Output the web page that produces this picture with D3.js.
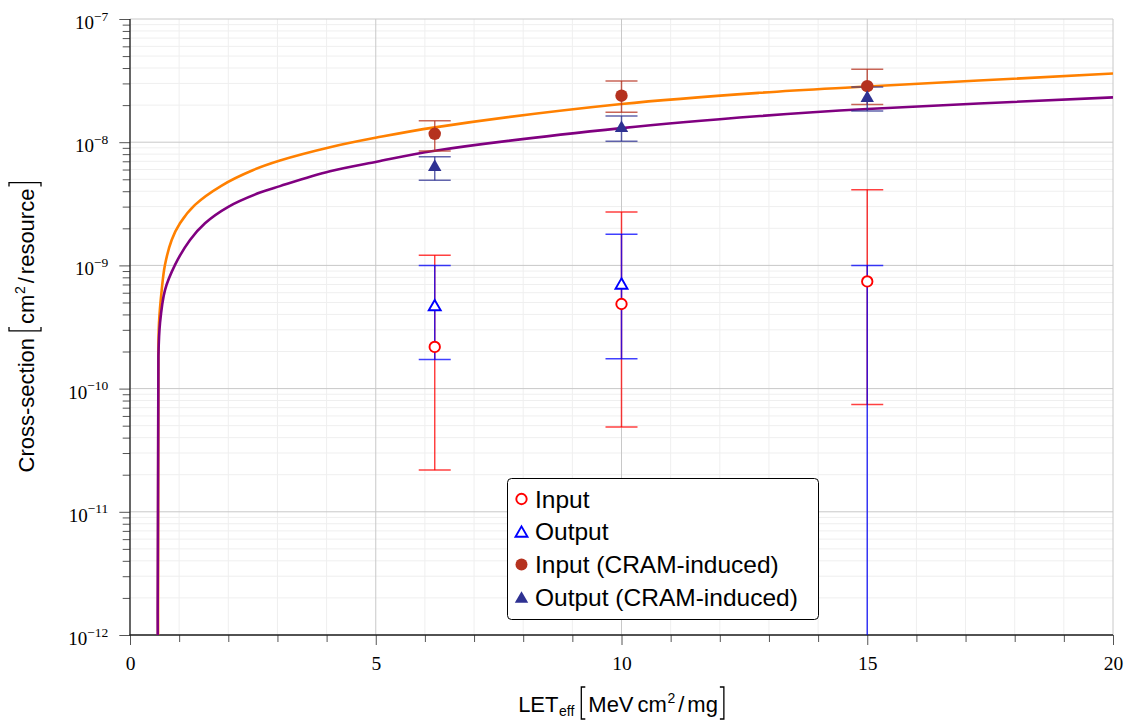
<!DOCTYPE html>
<html>
<head>
<meta charset="utf-8">
<script src="https://cdn.jsdelivr.net/npm/d3@7"></script>
<style>
  body { margin: 0; background: #fff; }
  svg { display: block; }
</style>
</head>
<body>
<svg id="chart" width="1128" height="720"></svg>
<script>
// ---- measured cross-sections (cm^2 per resource) vs effective LET ----
const letValues = [6.2, 10, 15];

const inputSigma = [2.18e-10, 4.86e-10, 7.41e-10];
const inputLow   = [2.18e-11, 4.88e-11, 7.43e-11];
const inputHigh  = [1.21e-9, 2.71e-9, 4.12e-9];

const outputSigma = [4.61e-10, 6.90e-10, null];   // no event rate at the highest LET
const outputLow   = [1.72e-10, 1.75e-10, 0];
const outputHigh  = [1.0e-9, 1.79e-9, 1.0e-9];

const cramInputSigma = [1.17e-8, 2.385e-8, 2.85e-8];
const cramInputLow   = [8.5e-9, 1.75e-8, 2.02e-8];
const cramInputHigh  = [1.49e-8, 3.14e-8, 3.91e-8];

const cramOutputSigma = [6.28e-9, 1.30e-8, 2.28e-8];
const cramOutputLow   = [4.91e-9, 1.02e-8, 1.79e-8];
const cramOutputHigh  = [7.62e-9, 1.63e-8, 2.81e-8];

// ---- fitted response curves (threshold near 0.575 MeV cm^2/mg) ----
const fitInputLET   = [0.575, 0.577, 0.59, 0.645, 0.712, 0.848, 1.017, 1.322, 1.866, 2.509, 3.052, 4.069, 5.019, 6.205, 10, 12.82, 15, 20];
const fitInputSigma = [0, 1.85e-10, 3.39e-10, 6.31e-10, 1.01e-9, 1.61e-9, 2.20e-9, 3.1e-9, 4.45e-9, 5.95e-9, 7.1e-9, 9.10e-9, 1.09e-8, 1.32e-8, 2.04e-8, 2.52e-8, 2.83e-8, 3.61e-8];

const fitOutputLET   = [0.575, 0.578, 0.61, 0.712, 0.916, 1.221, 1.526, 2.0, 2.645, 3.052, 4.069, 5.019, 6.205, 10, 12.82, 15, 20];
const fitOutputSigma = [0, 1.82e-10, 3.39e-10, 6.31e-10, 1.01e-9, 1.61e-9, 2.20e-9, 2.99e-9, 3.9e-9, 4.4e-9, 5.8e-9, 6.95e-9, 8.53e-9, 1.30e-8, 1.63e-8, 1.86e-8, 2.31e-8];

// ---- axes ----
const xMajorTicks = [0, 5, 10, 15, 20];
const yDecadeExponents = [-12, -11, -10, -9, -8, -7];
const legendLabels = ["Input", "Output", "Input (CRAM-induced)", "Output (CRAM-induced)"];

const SANS = "'Liberation Sans', Arial, Helvetica, sans-serif";
const SERIF = "'Liberation Serif', 'Times New Roman', serif";
const C_INPUT = "#ff0000", C_OUTPUT = "#0000ff";
const C_CRAM_IN = "#b5321f", C_CRAM_OUT = "#2e3192";
const C_FIT_IN = "#ff8000", C_FIT_OUT = "#800080";

const svg = d3.select("#chart");
const plot = { left: 130, right: 1113, top: 19, bottom: 635 };

const x = d3.scaleLinear().domain([0, 20]).range([plot.left, plot.right]);
const y = d3.scaleLog().domain([1e-12, 1e-7]).range([plot.bottom, plot.top]);
const yClamp = v => y(Math.max(v, 1e-14));

const yMajor = yDecadeExponents.map(e => Math.pow(10, e));
const yMinor = [];
yDecadeExponents.slice(0, -1).forEach(e => {
  for (let k = 2; k <= 9; k++) yMinor.push(k * Math.pow(10, e));
});
const xMinor = d3.range(0, 21).filter(v => v % 5 !== 0);

// ---- grid ----
const grid = svg.append("g");
grid.selectAll(".gxm").data(xMinor).join("line")
  .attr("x1", d => x(d)).attr("x2", d => x(d))
  .attr("y1", plot.top).attr("y2", plot.bottom)
  .attr("stroke", "#efefef").attr("stroke-width", 1);
grid.selectAll(".gym").data(yMinor).join("line")
  .attr("x1", plot.left).attr("x2", plot.right)
  .attr("y1", d => y(d)).attr("y2", d => y(d))
  .attr("stroke", "#efefef").attr("stroke-width", 1);
grid.selectAll(".gxM").data(xMajorTicks).join("line")
  .attr("x1", d => x(d)).attr("x2", d => x(d))
  .attr("y1", plot.top).attr("y2", plot.bottom)
  .attr("stroke", "#c8c8c8").attr("stroke-width", 1);
grid.selectAll(".gyM").data(yMajor).join("line")
  .attr("x1", plot.left).attr("x2", plot.right)
  .attr("y1", d => y(d)).attr("y2", d => y(d))
  .attr("stroke", "#c8c8c8").attr("stroke-width", 1);

// ---- axes with ticks ----
const tickColor = "#555";
const gxMinor = svg.append("g").attr("transform", `translate(0,${plot.bottom})`)
  .call(d3.axisBottom(x).tickValues(xMinor).tickSize(7).tickFormat(""));
gxMinor.select(".domain").remove();
gxMinor.selectAll(".tick line").attr("stroke", tickColor);

const gx = svg.append("g").attr("transform", `translate(0,${plot.bottom})`)
  .call(d3.axisBottom(x).tickValues(xMajorTicks).tickSize(10).tickFormat(d3.format("d")));
gx.select(".domain").remove();
gx.attr("font-family", SERIF).attr("font-size", 19.5);
gx.selectAll(".tick line").attr("stroke", tickColor);
gx.selectAll(".tick text").attr("y", 35).attr("dy", null).attr("fill", "#000");

const gyMinor = svg.append("g").attr("transform", `translate(${plot.left},0)`)
  .call(d3.axisLeft(y).tickValues(yMinor).tickSize(7.3).tickFormat(""));
gyMinor.select(".domain").remove();
gyMinor.selectAll(".tick line").attr("stroke", tickColor);

const gy = svg.append("g").attr("transform", `translate(${plot.left},0)`)
  .call(d3.axisLeft(y).tickValues(yMajor).tickSize(10.7).tickPadding(11).tickFormat(""));
gy.select(".domain").remove();
gy.attr("font-family", SERIF).attr("font-size", 19);
gy.selectAll(".tick line").attr("stroke", tickColor);
gy.selectAll(".tick text").each(function (d) {
  const t = d3.select(this).attr("dy", 9.5).attr("fill", "#000").text(null);
  t.append("tspan").text("10");
  t.append("tspan").attr("font-size", 13.5).attr("dy", -8.5)
    .text("\u2212" + Math.abs(Math.round(Math.log10(d))));
});

svg.append("line").attr("x1", plot.left).attr("x2", plot.left)
  .attr("y1", plot.top).attr("y2", plot.bottom + 0.5)
  .attr("stroke", "#222").attr("stroke-width", 1.3);
svg.append("line").attr("x1", plot.left - 0.5).attr("x2", plot.right)
  .attr("y1", plot.bottom).attr("y2", plot.bottom)
  .attr("stroke", "#222").attr("stroke-width", 1.3);

// ---- clipped data layer ----
svg.append("clipPath").attr("id", "plotClip").append("rect")
  .attr("x", plot.left).attr("y", plot.top)
  .attr("width", plot.right - plot.left).attr("height", plot.bottom - plot.top);
const layer = svg.append("g").attr("clip-path", "url(#plotClip)");

const line = d3.line().x(d => x(d[0])).y(d => yClamp(d[1])).curve(d3.curveCatmullRom.alpha(0.5));
layer.append("path").datum(d3.zip(fitInputLET, fitInputSigma))
  .attr("d", line).attr("fill", "none").attr("stroke", C_FIT_IN).attr("stroke-width", 2.6);
layer.append("path").datum(d3.zip(fitOutputLET, fitOutputSigma))
  .attr("d", line).attr("fill", "none").attr("stroke", C_FIT_OUT).attr("stroke-width", 2.6);

function errorBars(values, lows, highs, color) {
  const rows = letValues.map((l, i) => ({ l, v: values[i], lo: lows[i], hi: highs[i] }));
  const g = layer.append("g").attr("stroke", color).attr("stroke-width", 1.5).attr("stroke-opacity", 0.75);
  g.selectAll(".v").data(rows).join("line")
    .attr("x1", d => x(d.l)).attr("x2", d => x(d.l))
    .attr("y1", d => yClamp(d.hi)).attr("y2", d => yClamp(d.lo));
  const caps = rows.flatMap(d => [{ l: d.l, e: d.hi }, { l: d.l, e: d.lo }]);
  g.selectAll(".c").data(caps).join("line")
    .attr("x1", d => x(d.l) - 16).attr("x2", d => x(d.l) + 16)
    .attr("y1", d => yClamp(d.e)).attr("y2", d => yClamp(d.e));
}

const markerLayer = svg.append("g");
function circleMarks(values, r, color, open) {
  const rows = letValues.map((l, i) => ({ l, v: values[i] })).filter(d => d.v);
  markerLayer.append("g").selectAll("circle").data(rows).join("circle")
    .attr("cx", d => x(d.l)).attr("cy", d => y(d.v)).attr("r", r)
    .attr("fill", open ? "#fff" : color)
    .attr("stroke", open ? color : "none").attr("stroke-width", 1.9);
}
function triangleMarks(values, size, color, open) {
  const rows = letValues.map((l, i) => ({ l, v: values[i] })).filter(d => d.v);
  const sym = d3.symbol().type(d3.symbolTriangle).size(size);
  markerLayer.append("g").selectAll("path").data(rows).join("path")
    .attr("transform", d => `translate(${x(d.l)},${y(d.v)})`)
    .attr("d", sym)
    .attr("fill", open ? "#fff" : color)
    .attr("stroke", open ? color : "none").attr("stroke-width", 1.9);
}

errorBars(inputSigma, inputLow, inputHigh, C_INPUT);
errorBars(outputSigma, outputLow, outputHigh, C_OUTPUT);
errorBars(cramInputSigma, cramInputLow, cramInputHigh, C_CRAM_IN);
errorBars(cramOutputSigma, cramOutputLow, cramOutputHigh, C_CRAM_OUT);
circleMarks(inputSigma, 5.2, C_INPUT, true);
triangleMarks(outputSigma, 62, C_OUTPUT, true);
circleMarks(cramInputSigma, 6.2, C_CRAM_IN, false);
triangleMarks(cramOutputSigma, 78, C_CRAM_OUT, false);

// ---- axis titles composed of pieces with tall brackets ----
function composeLabel(parent, pieces) {
  const g = parent.append("g").attr("font-family", SANS).attr("fill", "#000");
  let cx = 0;
  pieces.forEach(p => {
    cx += p.gap || 0;
    if (p.bracket) {
      const open = p.bracket === "[";
      const bx = open ? cx + 1 : cx + 5;
      const s = open ? 4 : -4;
      g.append("path")
        .attr("d", `M${bx + s},${p.top}H${bx}V${p.bottom}H${bx + s}`)
        .attr("fill", "none").attr("stroke", "#000").attr("stroke-width", 1.3);
      cx += 6;
    } else {
      const t = g.append("text").attr("x", cx).attr("y", p.shift || 0)
        .attr("font-size", p.size).text(p.t);
      cx += t.node().getComputedTextLength();
    }
  });
  g.attr("transform", `translate(${-cx / 2},0)`);
  return g;
}

const xTitle = svg.append("g").attr("transform", `translate(${(plot.left + plot.right) / 2},712)`);
composeLabel(xTitle, [
  { t: "LET", size: 22 },
  { t: "eff", size: 14, shift: 4, gap: 0.5 },
  { bracket: "[", top: -25, bottom: 7, gap: 6 },
  { t: "MeV", size: 22, gap: 2 },
  { t: "cm", size: 22, gap: 4 },
  { t: "2", size: 14, shift: -9, gap: 0.5 },
  { t: "/", size: 22, gap: 3 },
  { t: "mg", size: 22, gap: 3 },
  { bracket: "]", top: -25, bottom: 7, gap: 1 }
]);

const yTitle = svg.append("g").attr("transform", `translate(34,${(plot.top + plot.bottom) / 2}) rotate(-90)`);
composeLabel(yTitle, [
  { t: "Cross-section", size: 22 },
  { bracket: "[", top: -25, bottom: 7, gap: 6 },
  { t: "cm", size: 22, gap: 2 },
  { t: "2", size: 14, shift: -9, gap: 0.5 },
  { t: "/", size: 22, gap: 3 },
  { t: "resource", size: 22, gap: 3 },
  { bracket: "]", top: -25, bottom: 7, gap: 1 }
]);

// ---- legend ----
const legend = svg.append("g").attr("transform", "translate(507.5,478.5)");
legend.append("rect").attr("width", 311).attr("height", 141).attr("rx", 4)
  .attr("fill", "#fff").attr("stroke", "#000").attr("stroke-width", 1);
const legendStyles = [
  { shape: "circle", color: C_INPUT, open: true, r: 5.2 },
  { shape: "triangle", color: C_OUTPUT, open: true, size: 62 },
  { shape: "circle", color: C_CRAM_IN, open: false, r: 6 },
  { shape: "triangle", color: C_CRAM_OUT, open: false, size: 78 }
];
const rowY = i => 20.5 + i * 32.8;
legendLabels.forEach((label, i) => {
  const st = legendStyles[i];
  const row = legend.append("g").attr("transform", `translate(14,${rowY(i)})`);
  if (st.shape === "circle") {
    row.append("circle").attr("r", st.r)
      .attr("fill", st.open ? "#fff" : st.color)
      .attr("stroke", st.open ? st.color : "none").attr("stroke-width", 1.9);
  } else {
    row.append("path").attr("d", d3.symbol().type(d3.symbolTriangle).size(st.size)())
      .attr("transform", "translate(0,1.5)")
      .attr("fill", st.open ? "#fff" : st.color)
      .attr("stroke", st.open ? st.color : "none").attr("stroke-width", 1.9);
  }
  row.append("text").attr("x", 13.5).attr("y", 8.6)
    .attr("font-family", SANS).attr("font-size", 24.5).attr("fill", "#000")
    .text(label);
});
</script>
</body>
</html>
